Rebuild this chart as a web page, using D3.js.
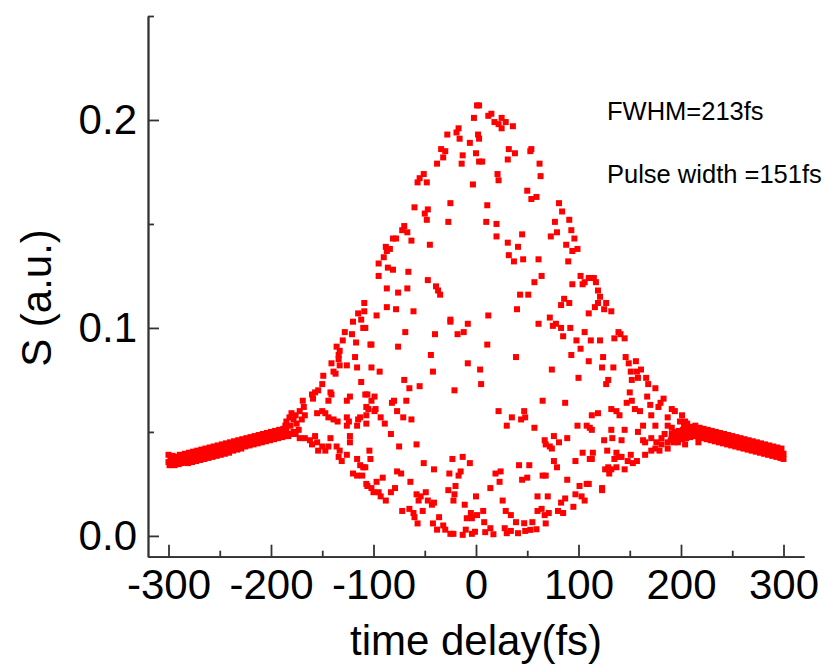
<!DOCTYPE html>
<html>
<head>
<meta charset="utf-8">
<script src="https://cdn.jsdelivr.net/npm/d3@7"></script>
<style>
  body { margin: 0; background: #fff; }
  svg text { font-family: "Liberation Sans", Arial, sans-serif; fill: #000; }
</style>
</head>
<body>
<div id="chart"></div>
<script>

// time delay (fs) / S (a.u.) pairs
var leftWing = [
  [-300,.039],[-300,.0355],[-299,.034],[-298,.037],[-297,.0345],[-296,.0385],[-295,.036],[-294,.034],
  [-293,.038],[-292,.035],[-291,.0375],[-290,.0345],[-289,.039],[-288,.036],[-287,.035],[-286,.038],
  [-285,.0355],[-284,.0395],[-283,.036],[-282,.0375],[-281,.035],[-280,.040],[-279,.0365],[-278,.038],
  [-277,.0355],[-276,.0405],[-275,.037],[-274,.0385],[-273,.036],[-272,.041],[-271,.0375],[-270,.039],
  [-269,.0365],[-268,.0415],[-267,.038],[-266,.0395],[-265,.037],[-264,.042],[-263,.0385],[-262,.040],
  [-261,.0375],[-260,.0425],[-259,.039],[-258,.041],[-257,.038],[-256,.043],[-255,.0395],[-254,.0415],
  [-253,.0385],[-252,.0435],[-251,.040],[-250,.042],[-249,.039],[-248,.044],[-247,.0405],[-246,.0425],
  [-245,.0395],[-244,.0445],[-243,.041],[-242,.043],[-241,.040],[-240,.045],[-239,.0415],[-238,.0435],
  [-237,.041],[-236,.0455],[-235,.042],[-234,.044],[-233,.0415],[-232,.046],[-231,.043],[-230,.0445],
  [-229,.042],[-228,.0465],[-227,.0435],[-226,.045],[-225,.043],[-224,.047],[-223,.044],[-222,.0455],
  [-221,.0435],[-220,.0475],[-219,.0445],[-218,.046],[-217,.044],[-216,.048],[-215,.045],[-214,.0465],
  [-213,.0445],[-212,.0485],[-211,.0455],[-210,.047],[-209,.045],[-208,.049],[-207,.046],[-206,.0475],
  [-205,.0455],[-204,.0495],[-203,.0465],[-202,.048],[-201,.046],[-200,.050],[-199,.047],[-198,.0485],
  [-197,.0465],[-196,.0505],[-195,.0475],[-194,.049],[-193,.047],[-192,.051],[-191,.048],[-190,.0495],
  [-189,.0475],[-188,.0515],[-187,.048],[-186,.050]
];

var fringes = [
  [-186,.053],[-185,.055],[-182,.057],[-180,.059],[-185,.051],[-181,.053],[-175,.054],[-173,.051],
  [-181,.049],[-172,.047],[-167,.047],[-162,.046],[-160,.044],[-157,.048],[-155,.045],[-150,.043],
  [-154,.041],[-147,.041],[-142,.047],[-144,.043],[-136,.043],[-133,.041],[-134,.038],[-131,.036],
  [-126,.039],[-123,.048],[-123,.045],[-116,.037],[-113,.034],[-110,.033],[-120,.030],[-116,.029],
  [-111,.029],[-107,.025],[-169,.065],[-168,.062],[-172,.060],[-167,.058],[-170,.056],[-155,.059],
  [-150,.060],[-147,.059],[-144,.057],[-139,.056],[-135,.055],[-126,.057],[-124,.055],[-126,.053],
  [-115,.056],[-113,.057],[-116,.053],[-107,.058],[-107,.054],[-160,.068],[-159,.066],[-157,.069],
  [-154,.070],[-150,.073],[-149,.077],[-142,.069],[-144,.065],[-141,.068],[-123,.067],[-126,.065],
  [-139,.079],[-137,.078],[-141,.083],[-134,.085],[-133,.082],[-126,.082],[-134,.087],[-133,.089],
  [-118,.086],[-116,.081],[-112,.074],[-108,.068],[-107,.062],[-105,.061],[-136,.091],[-130,.094],
  [-128,.098],[-121,.097],[-117,.093],[-103,.092],[-120,.103],[-112,.104],[-110,.100],[-115,.107],
  [-109,.108],[-109,.112],[-178,.050],[-176,.049],[-183,.048],[-178,.056],[-176,.058],
  [-97,.106],[-87,.110],[-78,.109],[-61,.108],[-95,.125],[-95,.131],[-90,.134],[-88,.139],
  [-87,.137],[-84,.138],[-86,.129],[-81,.128],[-66,.127],[-81,.143],[-78,.143],[-72,.147],
  [-70,.149],[-67,.146],[-63,.142],[-45,.140],[-67,.119],[-76,.117],[-87,.119],[-47,.123],
  [-39,.120],[-37,.118],[-35,.116],[-25,.104],[-60,.158],[-47,.157],[-50,.155],[-48,.152],
  [-27,.151],[-25,.160],[-51,.174],[-55,.172],[-57,.170],[-48,.170],[-3,.169],[-38,.179],
  [-34,.186],[-30,.185],[-32,.182],[-13,.183],[-14,.179],[0,.184],[3,.180],[-17,.196],
  [-19,.194],[-16,.191],[-28,.193],[2,.193],[-6,.189],[-2,.201],[1,.207],
  [-108,.100],[-25,.103],[-8,.102],[-18,.097],[-12,.098],[-69,.098],[-40,.097],[-76,.091],
  [-102,.092],[-44,.087],[-8,.083],[-102,.081],[-94,.079],[-42,.079],[-70,.075],[-65,.071],
  [-55,.072],[-21,.070],[-106,.068],[-99,.067],[-102,.065],[-98,.061],[-99,.060],[-80,.065],
  [-82,.064],[-68,.065],[-77,.060],[-93,.057],[-89,.054],[-71,.057],[-63,.056],[-83,.049],
  [-75,.043],[-58,.044],[-104,.041],[-103,.037],[-108,.033],[-51,.035],[-41,.032],[-23,.037],
  [-13,.038],[-6,.035],[-77,.031],[-73,.030],[-64,.026],[-91,.028],[-97,.026],[-106,.024],
  [-102,.023],[-95,.021],[-100,.021],[-93,.019],[-88,.017],[-83,.021],[-79,.023],[-26,.030],
  [-15,.031],[-17,.029],[-27,.022],[-20,.024],[-21,.020],[-22,.017],[-58,.020],[-54,.019],
  [-49,.021],[-56,.017],[-47,.017],[-43,.015],[-41,.016],[-72,.012],[-65,.013],[-61,.011],
  [-60,.009],[-57,.006],[-52,.012],[-36,.009],[-42,.006],[-38,.003],[-32,.005],[-30,.003],
  [-25,.001],[-22,.001],[-11,.015],[-9,.0085],[-5,.011],[-4,.0085],[0,.019],[1,.010],
  [-13,.0005],[-10,.003],[-4,.001],[-1,.002],
  [3,.207],[12,.202],[15,.203],[18,.199],[22,.198],[25,.201],[25,.196],[29,.199],
  [36,.197],[3,.191],[6,.180],[32,.186],[38,.184],[54,.186],[53,.185],[31,.181],
  [62,.179],[63,.173],[21,.174],[22,.171],[50,.166],[54,.162],[59,.163],[11,.159],
  [10,.151],[20,.150],[20,.144],[81,.160],[84,.156],[77,.151],[91,.152],[93,.147],
  [79,.146],[73,.144],[96,.143],[45,.145],[31,.141],[41,.139],[32,.135],[37,.132],
  [46,.133],[61,.133],[88,.140],[94,.137],[99,.138],[90,.132],[64,.125],[57,.122],
  [51,.116],[43,.116],[102,.125],[110,.124],[94,.121],[104,.121],[86,.114],[91,.112],
  [83,.111],[40,.109],[12,.106],[72,.105],[110,.107],
  [61,.102],[75,.101],[78,.102],[83,.100],[92,.100],[85,.096],[106,.098],[98,.094],
  [102,.090],[93,.087],[110,.084],[11,.092],[39,.086],[4,.080],[5,.073],[74,.080],
  [100,.076],[65,.065],[87,.064],[22,.060],[47,.060],[48,.057],[44,.056],[35,.057],
  [30,.053],[57,.052],[99,.053],[108,.053],[111,.052],[67,.046],[76,.048],[68,.044],
  [72,.043],[74,.042],[81,.045],[89,.047],[104,.040],[97,.036],[111,.037],[76,.036],
  [79,.033],[42,.034],[52,.034],[19,.030],[24,.031],[23,.026],[14,.023],[45,.027],
  [50,.028],[65,.029],[68,.029],[89,.027],[101,.024],[108,.025],[97,.020],[103,.019],
  [106,.017],[95,.014],[87,.018],[83,.016],[60,.019],[70,.019],[26,.017],[29,.012],
  [34,.010],[7,.012],[60,.012],[64,.013],[67,.010],[71,.011],[80,.012],[85,.011],
  [68,.006],[8,.0066],[14,.0037],[9,.0018],[17,.0008],[28,.0037],[30,.0013],[34,.0024],
  [39,.0066],[41,.0013],[47,.0061],[48,.0024],[53,.0029],[55,.0066],[59,.0032],
  [113,.124],[115,.124],[117,.122],[119,.118],[121,.115],[119,.112],[116,.110],[127,.112],
  [125,.109],[132,.108],[106,.122],[112,.094],[121,.094],[135,.095],[139,.098],[141,.097],
  [145,.095],[124,.086],[123,.081],[134,.081],[146,.086],[149,.083],[156,.084],[151,.079],
  [157,.079],[161,.080],[158,.076],[152,.075],[129,.075],[127,.073],[166,.076],[168,.073],
  [175,.071],[150,.069],[147,.064],[152,.065],[155,.061],[160,.060],[167,.067],[170,.063],
  [183,.066],[180,.064],[178,.062],[171,.058],[191,.061],[194,.060],[187,.057],[201,.058],
  [204,.055],[187,.053],[191,.052],[197,.050],[203,.053],[207,.050],[210,.048],[215,.050],
  [217,.045],[132,.061],[137,.060],[140,.058],[119,.059],[113,.058],[113,.051],[132,.051],
  [145,.051],[158,.050],[163,.053],[175,.053],[125,.046],[133,.047],[142,.046],[163,.046],
  [165,.045],[171,.047],[176,.045],[175,.042],[181,.044],[187,.045],[191,.047],[197,.045],
  [204,.044],[171,.041],[179,.041],[187,.042],[128,.041],[137,.040],[139,.038],[135,.037],
  [142,.038],[151,.039],[165,.039],[148,.036],[153,.035],[157,.036],[145,.032],[137,.033],
  [132,.032],[129,.033],[126,.032],[130,.030],[114,.040],[113,.037],[110,.025],[123,.023],
  [123,.022],[184,.049],[181,.047],[199,.055],[206,.054],[211,.052]
];

var rightWing = [
  [190,.046],[191,.049],[192,.0475],[193,.045],[194,.050],[195,.047],[196,.0485],[197,.046],
  [198,.0505],[199,.047],[200,.049],[201,.0465],[202,.051],[203,.048],[204,.0495],[205,.047],
  [206,.052],[207,.048],[208,.050],[209,.0475],[210,.0525],[211,.049],[212,.0505],[213,.048],
  [214,.053],[215,.049],[216,.0505],[217,.0475],[218,.052],[219,.048],[220,.050],[221,.047],
  [222,.0515],[223,.0475],[224,.0495],[225,.0465],[226,.051],[227,.047],[228,.049],[229,.046],
  [230,.0505],[231,.0465],[232,.0485],[233,.0455],[234,.050],[235,.046],[236,.048],[237,.045],
  [238,.0495],[239,.0455],[240,.0475],[241,.0445],[242,.049],[243,.045],[244,.047],[245,.044],
  [246,.0485],[247,.0445],[248,.0465],[249,.0435],[250,.048],[251,.044],[252,.046],[253,.043],
  [254,.0475],[255,.0435],[256,.0455],[257,.0425],[258,.047],[259,.043],[260,.045],[261,.042],
  [262,.0465],[263,.0425],[264,.0445],[265,.0415],[266,.046],[267,.042],[268,.044],[269,.041],
  [270,.0455],[271,.0415],[272,.0435],[273,.0405],[274,.045],[275,.041],[276,.043],[277,.040],
  [278,.0445],[279,.0405],[280,.0425],[281,.0395],[282,.044],[283,.040],[284,.042],[285,.039],
  [286,.0435],[287,.0395],[288,.0415],[289,.0385],[290,.043],[291,.039],[292,.041],[293,.038],
  [294,.0425],[295,.0385],[296,.0405],[297,.0375],[298,.042],[299,.038],[300,.0395],[300,.037]
];

var xMajor = [-300, -200, -100, 0, 100, 200, 300];
var xMinor = [-250, -150, -50, 50, 150, 250];
var yMajor = [0, 0.1, 0.2];
var yMinor = [0.05, 0.15, 0.25];

var notes = ["FWHM=213fs", "Pulse width =151fs"];

var width = 826, height = 668;

var svg = d3.select("#chart")
            .append("svg")
            .attr("width", width)
            .attr("height", height)

var x = d3.scaleLinear().domain([-320, 320]).range([148, 804])
var y = d3.scaleLinear().domain([-0.01, 0.25]).range([556.7, 16])

var axisColor = "#333"

// minor ticks first, then the major axis with labels
svg.append("g")
    .attr("transform", "translate(0,556.7)")
    .call(d3.axisBottom(x).tickValues(xMinor).tickSize(-6).tickSizeOuter(0).tickFormat(""))

svg.append("g")
    .attr("transform", "translate(148,0)")
    .call(d3.axisLeft(y).tickValues(yMinor).tickSize(-6).tickSizeOuter(0).tickFormat(""))

var xAxis = svg.append("g")
    .attr("transform", "translate(0,556.7)")
    .call(d3.axisBottom(x).tickValues(xMajor).tickSize(-12).tickSizeOuter(0).tickPadding(12)
        .tickFormat(function(d) { return d < 0 ? "-" + Math.abs(d) : d }))

var yAxis = svg.append("g")
    .attr("transform", "translate(148,0)")
    .call(d3.axisLeft(y).tickValues(yMajor).tickSize(-11).tickSizeOuter(0).tickPadding(11)
        .tickFormat(d3.format(".1f")))

svg.selectAll(".domain, .tick line")
    .style("stroke", axisColor)
    .style("stroke-width", 1.8)

svg.selectAll(".tick text")
    .style("font-size", "42px")
    .style("font-family", "'Liberation Sans', Arial, sans-serif")
    .style("fill", "#000")

var points = leftWing.concat(fringes).concat(rightWing)

svg.append("g")
    .selectAll("rect")
    .data(points)
    .enter()
    .append("rect")
    .attr("x", function(d) { return x(d[0]) - 3 })
    .attr("y", function(d) { return y(d[1]) - 3 })
    .attr("width", 6)
    .attr("height", 6)
    .style("fill", "#ff0000")

svg.append("text")
    .attr("x", x(0))
    .attr("y", 655)
    .attr("text-anchor", "middle")
    .style("font-size", "42px")
    .text("time delay(fs)")

svg.append("text")
    .attr("transform", "translate(51,298) rotate(-90)")
    .attr("text-anchor", "middle")
    .style("font-size", "42px")
    .text("S (a.u.)")

svg.selectAll(".note")
    .data(notes)
    .enter()
    .append("text")
    .attr("class", "note")
    .attr("x", 607)
    .attr("y", function(d, i) { return 120 + i * 63 })
    .style("font-size", "25.5px")
    .text(function(d) { return d })

</script>
</body>
</html>
